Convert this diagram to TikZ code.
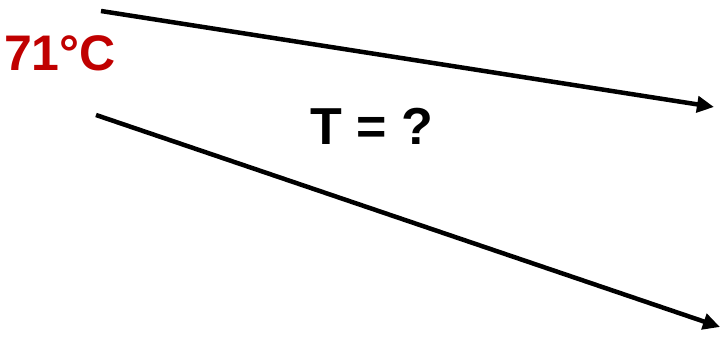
\documentclass[tikz,border=0pt]{standalone}
\usepackage{fontspec}
\setmainfont{Liberation Sans}
\usetikzlibrary{arrows.meta}
\definecolor{tempred}{RGB}{192,0,0}
\tikzset{
  flow/.style={line width=4.5pt,-{Triangle[length=17pt,width=16pt]}},
  lab/.style={font=\fontsize{50}{60}\selectfont\bfseries,inner sep=0pt}
}
\begin{document}
\begin{tikzpicture}[x=1pt,y=-1pt]
\useasboundingbox (0,0) rectangle (721,347);
\coordinate (t1) at (101,11);
\coordinate (t2) at (714,107);
\coordinate (b1) at (96,115);
\coordinate (b2) at (720,327);
\draw[flow] (t1) -- (t2);
\draw[flow] (b1) -- (b2);
\node[lab,text=tempred] (temp) at (60,53) {71°C};
\node[lab,font=\fontsize{52}{62}\selectfont\bfseries] (q) at (372,126) {T = ?};
\end{tikzpicture}
\end{document}
